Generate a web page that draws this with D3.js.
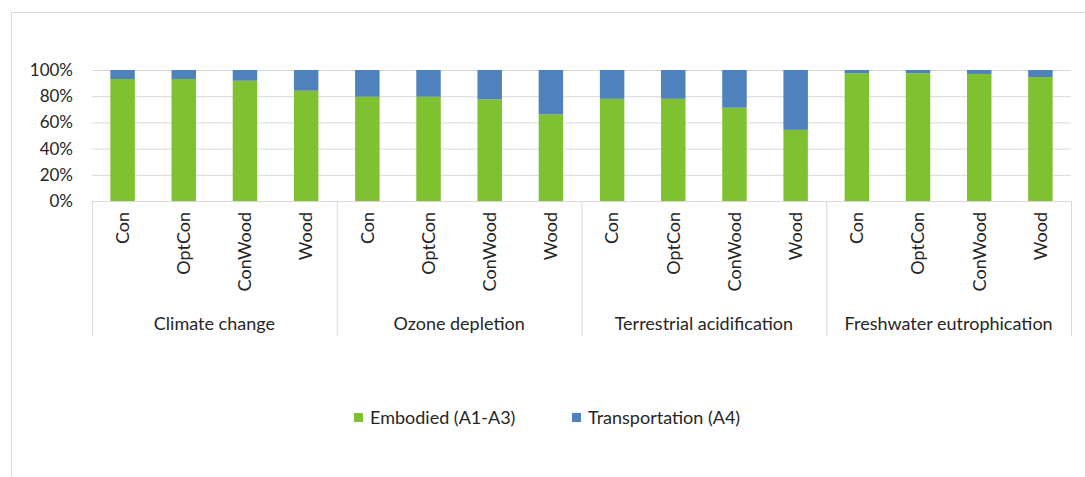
<!DOCTYPE html>
<html>
<head>
<meta charset="utf-8">
<script src="https://cdn.jsdelivr.net/npm/d3@7"></script>
<style>
  body { margin: 0; background: #fff; }
  text { font-family: Lato, "Open Sans", sans-serif; fill: #262626; }
</style>
</head>
<body>
<svg width="1085" height="477"></svg>
<script>
// data (share of embodied impact, %)
var groups = ['Climate change', 'Ozone depletion', 'Terrestrial acidification', 'Freshwater eutrophication']
var variants = ['Con', 'OptCon', 'ConWood', 'Wood']
var embodied = [
    [93.1, 93.1, 91.8, 84.2],
    [79.6, 79.6, 77.6, 66.1],
    [78.0, 78.0, 71.2, 54.3],
    [97.5, 97.5, 97.0, 94.6]
]
var seriesNames = ['Embodied (A1-A3)', 'Transportation (A4)']
var yTicks = [0, 20, 40, 60, 80, 100]

var colors = ['#80c132', '#4f81bd']

var rows = []
for (var g = 0; g < groups.length; g++) {
    for (var v = 0; v < variants.length; v++) {
        rows.push({
            key: g + '_' + v,
            group: groups[g],
            name: variants[v],
            emb: embodied[g][v],
            tra: 100 - embodied[g][v]
        })
    }
}

var svg = d3.select('svg')

// outer frame
svg.append('rect')
    .attr('x', 11.5).attr('y', 12.5)
    .attr('width', 1100).attr('height', 500)
    .attr('fill', 'none')
    .attr('stroke', '#d9d9d9')

var plotL = 92, plotR = 1071, plotT = 70, plotB = 201

var x = d3.scaleBand()
    .domain(rows.map(function(d) { return d.key }))
    .range([plotL, plotR])
    .paddingInner(0.6)
    .paddingOuter(0.3)

var y = d3.scaleLinear().domain([0, 100]).range([plotB, plotT])

// gridlines
svg.append('g')
    .selectAll('line')
    .data(yTicks)
    .enter()
    .append('line')
    .attr('x1', plotL).attr('x2', plotR)
    .attr('y1', function(d) { return y(d) + 0.5 })
    .attr('y2', function(d) { return y(d) + 0.5 })
    .attr('stroke', '#d9d9d9')

// y labels
svg.append('g')
    .selectAll('text')
    .data(yTicks)
    .enter()
    .append('text')
    .attr('x', 73)
    .attr('y', function(d) { return y(d) })
    .attr('dy', '0.35em')
    .attr('text-anchor', 'end')
    .style('font-size', '17px')
    .text(function(d) { return d + '%' })

// stacked bars
var stack = d3.stack().keys(['emb', 'tra'])(rows)
svg.append('g')
    .selectAll('g')
    .data(stack)
    .enter()
    .append('g')
    .attr('fill', function(d, i) { return colors[i] })
    .selectAll('rect')
    .data(function(d) { return d })
    .enter()
    .append('rect')
    .attr('x', function(d) { return x(d.data.key) })
    .attr('width', x.bandwidth())
    .attr('y', function(d) { return y(d[1]) })
    .attr('height', function(d) { return y(d[0]) - y(d[1]) })

// category axis with group separators
var step = x.step()
var groupW = step * variants.length
var sep = svg.append('g').attr('stroke', '#d9d9d9')
for (var g = 0; g <= groups.length; g++) {
    sep.append('line')
        .attr('x1', plotL + g * groupW + 0.5).attr('x2', plotL + g * groupW + 0.5)
        .attr('y1', plotB).attr('y2', 336)
}

svg.append('g')
    .selectAll('text')
    .data(rows)
    .enter()
    .append('text')
    .attr('transform', function(d) {
        return 'translate(' + (x(d.key) + x.bandwidth() / 2) + ',212) rotate(-90)'
    })
    .attr('dy', '0.35em')
    .attr('text-anchor', 'end')
    .style('font-size', '18px')
    .text(function(d) { return d.name })

svg.append('g')
    .selectAll('text')
    .data(groups)
    .enter()
    .append('text')
    .attr('x', function(d, i) { return plotL + (i + 0.5) * groupW })
    .attr('y', 330)
    .attr('text-anchor', 'middle')
    .style('font-size', '18px')
    .text(function(d) { return d })

// legend
var legendX = [354, 572]
var legend = svg.append('g')
    .selectAll('g')
    .data(seriesNames)
    .enter()
    .append('g')
    .attr('transform', function(d, i) { return 'translate(' + legendX[i] + ',413)' })
legend.append('rect')
    .attr('width', 9).attr('height', 9)
    .attr('fill', function(d, i) { return colors[i] })
legend.append('text')
    .attr('x', 16).attr('y', 4.5)
    .attr('dy', '0.35em')
    .style('font-size', '18px')
    .text(function(d) { return d })
</script>
</body>
</html>
